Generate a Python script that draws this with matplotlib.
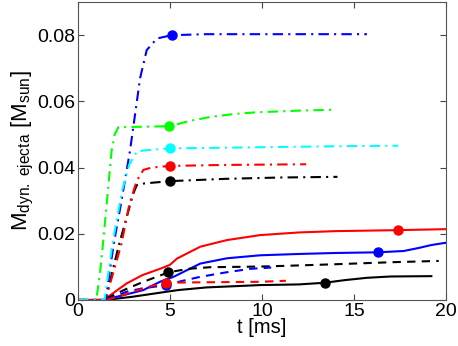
import matplotlib.pyplot as plt

plt.rcParams['font.family'] = 'Liberation Sans'
plt.rcParams['mathtext.fontset'] = 'custom'
plt.rcParams['mathtext.rm'] = 'Liberation Sans'
plt.rcParams['mathtext.it'] = 'Liberation Sans:italic'

# dash-dot curves (fast rise)
t_b_dd = [0, 1.5, 1.95, 2.37, 2.83, 3.38, 3.74, 4.3, 5.1, 7, 10, 13, 15.7]
m_b_dd = [0, 0, 0.017, 0.030, 0.045, 0.067, 0.0755, 0.079, 0.0800, 0.0803, 0.0803, 0.0803, 0.0803]
t_g_dd = [0, 1.0, 1.2, 1.4, 1.83, 2.0, 2.2, 5.0, 6.0, 7.2, 8.5, 9.7, 12, 14.0]
m_g_dd = [0, 0, 0.008, 0.019, 0.045, 0.050, 0.0522, 0.0525, 0.054, 0.0553, 0.0562, 0.0567, 0.0572, 0.0575]
t_c_dd = [0, 1.45, 1.88, 2.4, 2.8, 3.2, 3.6, 5.0, 8, 12, 15, 17.4]
m_c_dd = [0, 0, 0.017, 0.033, 0.041, 0.0448, 0.0452, 0.0458, 0.0460, 0.0463, 0.0465, 0.0466]
t_r_dd = [0, 1.5, 2.37, 2.8, 3.2, 3.56, 4.0, 5.0, 8, 12.4]
m_r_dd = [0, 0, 0.017, 0.029, 0.036, 0.0393, 0.040, 0.0405, 0.0408, 0.041]
t_k_dd = [0, 1.5, 2.2, 2.65, 3.0, 3.2, 3.6, 5.0, 8, 11, 14.1]
m_k_dd = [0, 0, 0.016, 0.025, 0.032, 0.0347, 0.0352, 0.0359, 0.0366, 0.037, 0.0372]

# solid curves
t_r_s = [0, 1.4, 2.65, 3.5, 4.5, 5.0, 5.38, 6.65, 8.1, 9.9, 12, 14, 17.4, 20]
m_r_s = [0, 0, 0.005, 0.0075, 0.0095, 0.0106, 0.0125, 0.0161, 0.0181, 0.0196, 0.0204, 0.0208, 0.0211, 0.0214]
t_b_s = [0, 1.4, 2.5, 3.56, 4.46, 5.2, 6.65, 8.1, 9.9, 12, 14, 16.3, 17.7, 18.5, 19.2, 20]
m_b_s = [0, 0, 0.0015, 0.003, 0.0055, 0.007, 0.011, 0.0126, 0.0135, 0.0139, 0.0142, 0.0144, 0.0148, 0.0157, 0.0166, 0.0173]
t_k_s = [0, 1.5, 3.0, 4.46, 5.45, 7, 9.9, 12, 13.4, 14.5, 15.7, 17, 19.2]
m_k_s = [0, 0, 0.001, 0.0022, 0.003, 0.0038, 0.0045, 0.0047, 0.0052, 0.006, 0.0067, 0.0071, 0.0072]

# dashed curves
t_k_d = [0, 1.4, 2.5, 3.56, 4.95, 6.0, 7.17, 9.9, 11.2, 14, 17, 19.6]
m_k_d = [0, 0, 0.003, 0.0055, 0.0084, 0.0094, 0.0099, 0.0101, 0.0103, 0.0108, 0.0114, 0.0118]
t_b_d = [0, 1.5, 2.65, 3.5, 4.8, 5.7, 6.65, 8, 9.35, 10.5]
m_b_d = [0, 0, 0.0025, 0.0035, 0.0045, 0.0058, 0.007, 0.0083, 0.0094, 0.0098]
t_r_d = [0, 1.5, 2.2, 3.0, 4.0, 4.8, 6, 8, 9.9, 11.3]
m_r_d = [0, 0, 0.001, 0.0025, 0.0042, 0.0052, 0.0053, 0.0054, 0.0055, 0.0058]

# marker positions
mk_t = [5.1, 4.97, 5.0, 5.0, 5.0, 17.4, 16.3, 13.4, 4.9, 4.8, 4.8]
mk_m = [0.0800, 0.0526, 0.0458, 0.0405, 0.0359, 0.0211, 0.0144, 0.0052, 0.0086, 0.0045, 0.0052]
mk_c = ['#0000ff', '#00ff00', '#00ffff', '#ff0000', 'k', '#ff0000', '#0000ff', 'k', 'k', '#0000ff', '#ff0000']

fig = plt.figure(figsize=(4.58, 3.46), dpi=100)
ax = fig.add_axes([0.170, 0.133, 0.804, 0.861])

lw = 1.5
dd = (5, 2.5, 1, 2.5)
ax.plot(t_k_s, m_k_s, color='k', lw=lw)
ax.plot(t_b_s, m_b_s, color='#0000ff', lw=lw)
ax.plot(t_r_s, m_r_s, color='#ff0000', lw=lw)
ax.plot(t_k_d, m_k_d, color='k', lw=lw, ls='--', dashes=(4, 3))
ax.plot(t_b_d, m_b_d, color='#0000ff', lw=lw, ls='--', dashes=(4, 3))
ax.plot(t_r_d, m_r_d, color='#ff0000', lw=lw, ls='--', dashes=(4, 3))
ax.plot(t_k_dd, m_k_dd, color='k', lw=lw, dashes=dd)
ax.plot(t_r_dd, m_r_dd, color='#ff0000', lw=lw, dashes=dd)
ax.plot(t_g_dd, m_g_dd, color='#00ff00', lw=lw, dashes=dd)
ax.plot(t_b_dd, m_b_dd, color='#0000ff', lw=lw, dashes=dd)
ax.plot(t_c_dd, m_c_dd, color='#00ffff', lw=lw, dashes=dd)

for t, m, c in zip(mk_t, mk_m, mk_c):
    ax.plot(t, m, 'o', color=c, ms=6.5, mec=c)

ax.set_xlim(0, 20)
ax.set_ylim(0, 0.09)
ax.set_xticks([0, 5, 10, 15, 20])
ax.set_yticks([0, 0.02, 0.04, 0.06, 0.08])
ax.set_yticklabels(['0', '0.02', '0.04', '0.06', '0.08'])
ax.tick_params(direction='in', top=True, right=True, length=4, width=0.8,
               labelsize=14, colors='#444444', labelcolor='k', pad=2)
for s in ax.spines.values():
    s.set_color('#555555')
    s.set_linewidth(0.8)

ax.set_xlabel('t [ms]', fontsize=14.5, labelpad=-1)
ax.set_ylabel(r'M$_{\rm dyn.\ ejecta}$ [M$_{\rm sun}$]', fontsize=16, labelpad=1)

fig.savefig('out.png', dpi=100)
